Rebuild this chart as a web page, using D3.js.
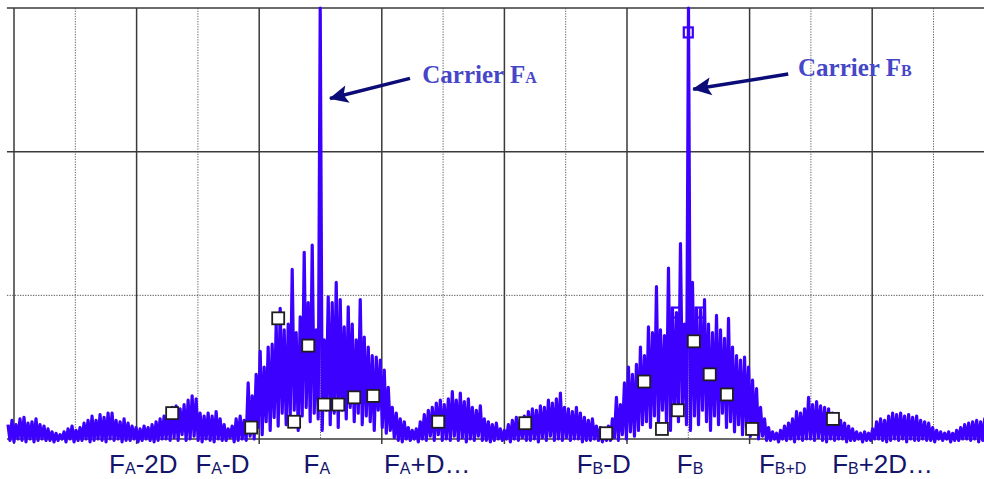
<!DOCTYPE html>
<html>
<head>
<meta charset="utf-8">
<title>Spectrum</title>
<script src="https://cdn.jsdelivr.net/npm/d3@7"></script>
<style>
  body { margin: 0; background: #fff; }
</style>
</head>
<body>
<script>

// spectrum bins: start frequency and bin width (in grid divisions)
var freqStart = -0.098;
var freqStep = 0.0653;

// peak level per bin
var specHi = [
  10,13,10,14,15,11,12,14,10,9,
  7,5,4,3,5,7,9,6,8,11,
  13,16,13,17,15,18,18,13,12,14,
  11,9,8,7,9,8,10,12,14,16,
  18,22,23,21,24,27,30,28,18,16,
  18,16,19,14,10,7,9,14,16,13,
  39,30,45,61,50,64,66,80,91,76,
  80,118,74,85,130,95,135,76,300,69,
  99,95,109,97,78,92,80,69,97,71,
  64,58,57,55,48,36,22,18,14,12,
  8,6,7,12,17,20,22,25,27,24,
  28,33,27,32,26,28,22,20,23,14,
  12,10,11,7,6,10,13,15,14,16,
  19,21,20,23,22,27,25,28,32,22,
  21,19,22,18,15,13,14,9,8,7,
  9,14,29,24,39,50,45,52,64,58,
  78,74,106,76,72,119,91,88,136,80,
  300,109,91,90,97,80,74,86,76,70,
  84,64,58,55,57,50,41,35,22,14,
  8,5,4,6,9,11,14,19,18,21,
  29,24,26,23,22,21,18,16,13,11,
  9,7,5,4,5,4,7,12,14,13,
  16,18,17,18,16,17,15,16,13,12,
  11,8,6,5,4,5,4,6,8,10,
  11,12,13,12,14
];

// trough level per bin
var specLo = [
  -1,-2,0,-1,-2,0,-2,-1,0,-1,
  -1,-2,-1,0,-2,0,-2,-1,-1,0,
  -2,-1,0,-1,-2,0,-1,0,-2,-1,
  -1,0,-2,-1,0,-1,-2,-1,0,0,
  -1,1,-1,3,-1,0,2,-1,-2,0,
  -1,-2,0,-1,-1,1,-2,-1,0,-1,
  2,0,8,3,12,6,15,9,18,10,
  14,20,6,16,22,12,18,14,6,20,
  10,18,8,20,14,22,12,18,10,16,
  12,6,20,8,4,6,1,-1,-2,0,
  -1,0,-2,0,-1,2,-1,3,-1,0,
  -1,2,-1,1,-2,0,-1,2,-1,-1,
  -2,-1,0,-1,0,-2,0,-1,1,-1,
  -1,0,-2,1,-1,2,-1,0,-1,1,
  -1,0,0,-2,-1,-1,0,-1,-2,-1,
  -1,1,-1,3,0,5,2,6,10,12,
  8,16,10,20,12,6,18,12,22,10,
  6,16,10,20,12,6,16,10,18,8,
  12,5,10,3,8,2,5,0,2,-1,
  -1,0,-2,0,-1,0,-2,0,-1,0,
  0,-1,1,-1,-2,0,-1,0,0,-2,
  -1,-1,0,-2,-1,-1,0,0,-1,-2,
  -1,0,-1,0,-2,0,-1,-1,0,-1,
  -1,-2,0,-1,0,-2,-1,-1,0,0,
  -1,0,-2,-1,-1
];

// white square markers
var markFreq  = [2.58, 3.87, 4.31, 4.57, 4.80, 5.06, 5.29, 5.55, 5.86, 6.92,
                 8.34, 9.66, 10.28, 10.57, 10.83, 11.09, 11.35, 11.63, 12.04, 13.36];
var markLevel = [18, 8, 84, 12, 65, 24, 24, 29, 30, 12,
                 11, 4, 40, 7, 20, 68, 45, 31, 7, 14];

// blue hollow markers
var blueFreq  = [11.0, 10.80, 11.19];
var blueLevel = [283, 88, 88];

// x axis labels
var tickPos  = [2.11, 3.40, 4.94, 6.74, 9.62, 11.03, 12.54, 14.17];
var tickMain = ["F", "F", "F", "F", "F", "F", "F", "F"];
var tickSub  = ["A", "A", "A", "A", "B", "B", "B+D", "B"];
var tickRest = ["-2D", "-D", "", "+D\u2026", "-D", "", "", "+2D\u2026"];

// annotations
var annSub   = ["A", "B"];
var annTextF = [6.66, 12.79];
var annTextL = [248, 253];
var annFromF = [6.46, 12.63];
var annFromL = [251, 254];
var annToF   = [5.155, 11.08];
var annToL   = [237, 243.5];

var w = 984, h = 479;

var svg = d3.select("body").append("svg")
  .attr("width", w)
  .attr("height", h)
  .style("display", "block");

var x = d3.scaleLinear().domain([0, 16]).range([14, 14 + 16 * 61.3]);
var y = d3.scaleLinear().domain([0, 300]).range([439, 8]);
var xLeft = x(-0.115);

// grid
var grid = svg.append("g");
grid.selectAll("line.v")
  .data(d3.range(0, 16))
  .enter().append("line")
    .attr("x1", function(d) { return x(d); })
    .attr("x2", function(d) { return x(d); })
    .attr("y1", y(300))
    .attr("y2", function(d) { return d % 2 ? y(0) : y(0) + 5; })
    .attr("stroke", function(d) { return d % 2 ? "#666" : "#3a3a3a"; })
    .attr("stroke-width", function(d) { return d % 2 ? 1 : 1.5; })
    .attr("stroke-dasharray", function(d) { return d % 2 ? "1.3,1.3" : null; });

grid.selectAll("line.h")
  .data([300, 200, 100, 0])
  .enter().append("line")
    .attr("x1", xLeft)
    .attr("x2", w)
    .attr("y1", function(d) { return y(d); })
    .attr("y2", function(d) { return y(d); })
    .attr("stroke", function(d) { return d === 100 ? "#555" : "#3a3a3a"; })
    .attr("stroke-width", function(d) { return d === 100 ? 1 : 1.5; })
    .attr("stroke-dasharray", function(d) { return d === 100 ? "1.3,1.3" : null; });

// spectrum trace: peak then trough for each bin
var pts = [];
specHi.forEach(function(v, i) {
  pts.push([freqStart + i * freqStep, v]);
  pts.push([freqStart + (i + 0.5) * freqStep, specLo[i]]);
});

var line = d3.line()
  .x(function(d) { return x(d[0]); })
  .y(function(d) { return y(d[1]); });

svg.append("path")
  .datum(pts)
  .attr("d", line)
  .attr("fill", "none")
  .attr("stroke", "#3c00ff")
  .attr("stroke-width", 3.2)
  .attr("stroke-linejoin", "round");

// markers
svg.selectAll("rect.bm")
  .data(blueFreq)
  .enter().append("rect")
    .attr("x", function(d) { return x(d) - 4.5; })
    .attr("y", function(d, i) { return y(blueLevel[i]) - 5; })
    .attr("width", 9)
    .attr("height", 10)
    .attr("fill", "none")
    .attr("stroke", "#3c00ff")
    .attr("stroke-width", 2.2);

svg.selectAll("rect.wm")
  .data(markFreq)
  .enter().append("rect")
    .attr("x", function(d) { return x(d) - 6; })
    .attr("y", function(d, i) { return y(markLevel[i]) - 6; })
    .attr("width", 12)
    .attr("height", 12)
    .attr("fill", "#fff")
    .attr("stroke", "#1e1e1e")
    .attr("stroke-width", 1.8);

// x labels
var labels = svg.append("g")
  .attr("font-family", "'Liberation Sans', Arial, sans-serif")
  .attr("fill", "#14146c")
  .attr("text-anchor", "middle");

tickPos.forEach(function(p, i) {
  var t = labels.append("text")
    .attr("x", x(p))
    .attr("y", 473)
    .attr("font-size", 26);
  t.append("tspan").text(tickMain[i]);
  t.append("tspan").attr("font-size", 16).attr("dy", 1).text(tickSub[i]);
  if (tickRest[i]) t.append("tspan").attr("dy", -1).text(tickRest[i]);
});

// annotations
svg.append("defs").append("marker")
  .attr("id", "arr")
  .attr("markerUnits", "userSpaceOnUse")
  .attr("viewBox", "-1 -10 21 20")
  .attr("refX", 18)
  .attr("refY", 0)
  .attr("markerWidth", 21)
  .attr("markerHeight", 20)
  .attr("orient", "auto")
  .append("path")
    .attr("d", "M0,-9 L19,0 L0,9 L4,0 z")
    .attr("fill", "#0c0c78");

annSub.forEach(function(s, i) {
  svg.append("line")
    .attr("x1", x(annFromF[i]))
    .attr("y1", y(annFromL[i]))
    .attr("x2", x(annToF[i]))
    .attr("y2", y(annToL[i]))
    .attr("stroke", "#0c0c78")
    .attr("stroke-width", 3.5)
    .attr("marker-end", "url(#arr)");

  var t = svg.append("text")
    .attr("x", x(annTextF[i]))
    .attr("y", y(annTextL[i]))
    .attr("font-family", "'Liberation Serif', 'Times New Roman', serif")
    .attr("font-weight", "bold")
    .attr("font-size", 25)
    .attr("fill", "#4646c8");
  t.append("tspan").text("Carrier F");
  t.append("tspan").attr("font-size", 16).text(s);
});

</script>
</body>
</html>
